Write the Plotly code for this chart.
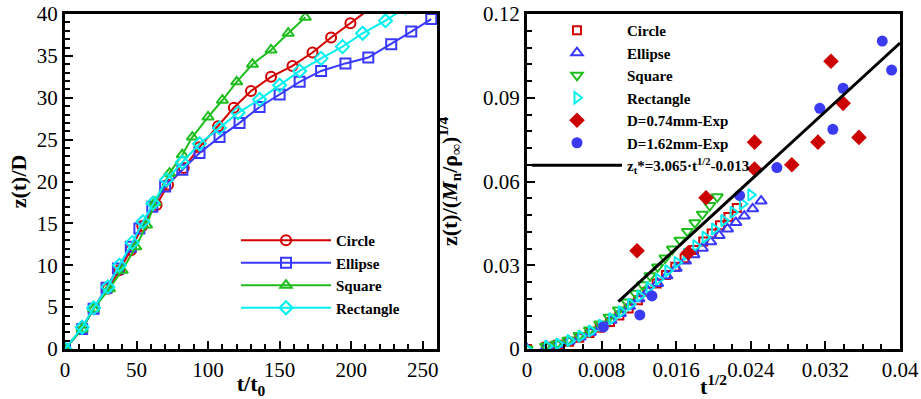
import plotly.graph_objects as go

# ---------------- Left panel data: z(t)/D vs t/t0 ----------------
circle_t = [0, 12, 20, 30, 38, 46, 54, 64, 72, 83, 94, 107, 118, 130, 144, 159, 173, 186, 199.5, 216]
circle_z = [0, 2.5, 4.9, 7.2, 9.4, 11.8, 14.7, 17.2, 19.6, 21.6, 24.1, 26.6, 28.8, 30.8, 32.5, 33.8, 35.4, 37.2, 38.9, 41.0]

ellipse_t = [0, 12, 20, 29, 37, 46, 52, 61, 70, 82, 94, 108, 122, 136, 150, 164, 179, 196, 212, 228, 242, 256]
ellipse_z = [0, 2.4, 4.8, 7.3, 9.6, 12.2, 14.4, 17.0, 19.4, 21.4, 23.4, 25.3, 27.0, 28.9, 30.4, 31.9, 33.2, 34.1, 34.8, 36.4, 37.9, 39.4]

square_t = [0, 12, 20, 31, 40, 49.5, 57, 63, 73, 82, 89, 100, 110, 120, 131, 144, 156, 168]
square_z = [0, 2.4, 4.8, 7.2, 9.4, 12.2, 14.8, 17.5, 21.0, 23.2, 25.3, 27.7, 29.7, 31.9, 34.0, 35.7, 37.7, 39.6]

rect_t = [0, 12, 20, 30, 38, 47, 54.5, 61.5, 71, 82, 94, 108, 121, 136, 150, 164, 179, 194, 208, 224, 238]
rect_z = [0, 2.6, 4.9, 7.4, 10.0, 12.7, 15.2, 17.4, 20.2, 22.3, 24.5, 26.4, 28.2, 29.8, 31.5, 33.2, 34.7, 36.1, 37.7, 39.2, 40.8]

# ---------------- Right panel data: scaled z vs t^(1/2) ----------------
r_circle_x = [0, 0.0021, 0.0033, 0.0045, 0.0056, 0.0067, 0.0078, 0.0089, 0.0099, 0.0109, 0.0119, 0.0129,
              0.0139, 0.0149, 0.0159, 0.0169, 0.0179, 0.0189, 0.0198, 0.0207, 0.0216, 0.0225]
r_circle_y = [0, 0.0008, 0.0015, 0.0026, 0.0040, 0.0057, 0.0076, 0.0097, 0.0120, 0.0145, 0.0175, 0.0205,
              0.0235, 0.0265, 0.0295, 0.0325, 0.0355, 0.0385, 0.0414, 0.0443, 0.0473, 0.0505]

r_ellipse_x = [0, 0.0021, 0.0033, 0.0045, 0.0057, 0.0068, 0.0079, 0.0090, 0.0100, 0.0110, 0.0120, 0.0130,
               0.0140, 0.0150, 0.0160, 0.0170, 0.0179, 0.0188, 0.0197, 0.0206, 0.0215, 0.0224, 0.0233,
               0.0242, 0.0251]
r_ellipse_y = [0, 0.0009, 0.0016, 0.0028, 0.0043, 0.0060, 0.0080, 0.0103, 0.0127, 0.0153, 0.0180, 0.0207,
               0.0235, 0.0262, 0.0289, 0.0315, 0.0338, 0.0361, 0.0384, 0.0407, 0.0430, 0.0453, 0.0476,
               0.0502, 0.0530]

r_square_x = [0, 0.0020, 0.0032, 0.0044, 0.0056, 0.0067, 0.0078, 0.0088, 0.0098, 0.0107, 0.0116, 0.0124,
              0.0132, 0.0140, 0.0148, 0.0156, 0.0164, 0.0172, 0.0180, 0.0188, 0.0196, 0.0204]
r_square_y = [0, 0.0010, 0.0018, 0.0031, 0.0048, 0.0068, 0.0090, 0.0114, 0.0140, 0.0168, 0.0200, 0.0230,
              0.0262, 0.0294, 0.0326, 0.0358, 0.0390, 0.0421, 0.0452, 0.0483, 0.0514, 0.0545]

r_rect_x = [0, 0.0022, 0.0034, 0.0046, 0.0058, 0.0069, 0.0080, 0.0091, 0.0101, 0.0111, 0.0121, 0.0131,
            0.0141, 0.0151, 0.0161, 0.0171, 0.0181, 0.0191, 0.0201, 0.0211, 0.0221, 0.0231, 0.0240]
r_rect_y = [0, 0.0010, 0.0018, 0.0030, 0.0046, 0.0064, 0.0085, 0.0108, 0.0133, 0.0160, 0.0190, 0.0220,
            0.0250, 0.0280, 0.0310, 0.0340, 0.0370, 0.0400, 0.0430, 0.0460, 0.0490, 0.0520, 0.0552]

exp074_x = [0.0118, 0.0173, 0.0192, 0.0244, 0.0244, 0.0284, 0.0312, 0.0326, 0.0339, 0.0356]
exp074_y = [0.0352, 0.0345, 0.0542, 0.0645, 0.0741, 0.0660, 0.0741, 0.1031, 0.0880, 0.0758]

exp162_x = [0.0082, 0.0121, 0.0134, 0.0228, 0.0268, 0.0314, 0.0328, 0.0339, 0.0381, 0.0391]
exp162_y = [0.0079, 0.0122, 0.0190, 0.0550, 0.0650, 0.0862, 0.0787, 0.0934, 0.1103, 0.0999]

fit_x = [0.0098, 0.0400]
fit_y = [0.0170, 0.1096]

left_xticks = [0, 50, 100, 150, 200, 250]
left_yticks = [0, 5, 10, 15, 20, 25, 30, 35, 40]
right_xticks = [0, 0.008, 0.016, 0.024, 0.032, 0.04]
right_xtext = ["0", "0.008", "0.016", "0.024", "0.032", "0.04"]
right_yticks = [0, 0.03, 0.06, 0.09, 0.12]
right_ytext = ["0", "0.03", "0.06", "0.09", "0.12"]

RED = "#d40000"
BLUE = "#3838ff"
GREEN = "#1ebe1e"
CYAN = "#00f0f0"
FONT = "Liberation Serif"

fig = go.Figure()

# Left panel traces
left_series = [
    ("Circle", circle_t, circle_z, RED, "circle-open"),
    ("Ellipse", ellipse_t, ellipse_z, BLUE, "square-open"),
    ("Square", square_t, square_z, GREEN, "triangle-up-open"),
    ("Rectangle", rect_t, rect_z, CYAN, "diamond-open"),
]
for name, xs, ys, col, sym in left_series:
    fig.add_trace(go.Scatter(
        x=xs, y=ys, name="<b>" + name + "</b>", mode="lines+markers",
        line=dict(color=col, width=2),
        marker=dict(symbol=sym, size=10, color=col, line=dict(width=2, color=col)),
        xaxis="x", yaxis="y", legend="legend",
    ))

# Right panel traces
right_series = [
    ("Circle", r_circle_x, r_circle_y, RED, "square-open", 8),
    ("Ellipse", r_ellipse_x, r_ellipse_y, BLUE, "triangle-up-open", 10),
    ("Square", r_square_x, r_square_y, GREEN, "triangle-down-open", 10),
    ("Rectangle", r_rect_x, r_rect_y, CYAN, "triangle-right-open", 10),
]
for name, xs, ys, col, sym, sz in right_series:
    fig.add_trace(go.Scatter(
        x=xs, y=ys, name="<b>" + name + "</b>", mode="markers",
        marker=dict(symbol=sym, size=sz, color=col, line=dict(width=2, color=col)),
        xaxis="x2", yaxis="y2", legend="legend2",
    ))

fig.add_trace(go.Scatter(
    x=exp074_x, y=exp074_y, name="<b>D=0.74mm-Exp</b>", mode="markers",
    marker=dict(symbol="diamond", size=12, color="#cc0000"),
    xaxis="x2", yaxis="y2", legend="legend2",
))
fig.add_trace(go.Scatter(
    x=exp162_x, y=exp162_y, name="<b>D=1.62mm-Exp</b>", mode="markers",
    marker=dict(symbol="circle", size=11, color="#3a3af0"),
    xaxis="x2", yaxis="y2", legend="legend2",
))
fig.add_trace(go.Scatter(
    x=fit_x, y=fit_y, name="<b>z<sub>t</sub>*=3.065·t<sup>1/2</sup>-0.013</b>", mode="lines",
    line=dict(color="black", width=3),
    xaxis="x2", yaxis="y2", legend="legend2",
))

W, H = 921, 399
tickfont = dict(family=FONT, size=21, color="black")
titlefont = dict(family=FONT, size=22, color="black")

common = dict(
    showgrid=False, zeroline=False, showline=True, linecolor="black", linewidth=3,
    mirror=True, ticks="inside", ticklen=8, tickwidth=2, tickcolor="black",
    tickfont=tickfont, automargin=False,
)

ydom = [(H - 349) / H, (H - 14) / H]

fig.update_layout(
    width=W, height=H,
    margin=dict(l=0, r=0, t=0, b=0),
    paper_bgcolor="white", plot_bgcolor="white",
    font=dict(family=FONT, color="black"),
    xaxis=dict(domain=[65 / W, 437 / W], range=[0, 260], tickvals=left_xticks,
               minor=dict(dtick=10, ticks="inside", ticklen=5, tickwidth=1.5, tickcolor="black"),
               title=dict(text="<b>t/t<sub>0</sub></b>", font=titlefont, standoff=0),
               anchor="y", **common),
    yaxis=dict(domain=ydom, range=[0, 40], tickvals=left_yticks,
               minor=dict(dtick=1, ticks="inside", ticklen=5, tickwidth=1.5, tickcolor="black"),
               title=dict(text="<b>z(t)/D</b>", font=titlefont, standoff=5),
               anchor="x", **common),
    xaxis2=dict(domain=[527 / W, 900 / W], range=[0, 0.04], tickvals=right_xticks, ticktext=right_xtext,
                minor=dict(dtick=0.002, ticks="inside", ticklen=5, tickwidth=1.5, tickcolor="black"),
                title=dict(text="<b>t<sup>1/2</sup></b>", font=titlefont, standoff=0),
                anchor="y2", **common),
    yaxis2=dict(domain=ydom, range=[0, 0.12], tickvals=right_yticks, ticktext=right_ytext,
                minor=dict(dtick=0.006, ticks="inside", ticklen=5, tickwidth=1.5, tickcolor="black"),
                title=dict(text="<b>z(t)/(<i>M</i><sub>n</sub>/ρ<sub>∞</sub>)<sup>1/4</sup></b>",
                           font=titlefont, standoff=20),
                anchor="x2", **common),
    legend=dict(x=236 / W, y=1 - 224 / H, xanchor="left", yanchor="top",
                bgcolor="rgba(0,0,0,0)", borderwidth=0, itemwidth=90,
                font=dict(family=FONT, size=15, color="black"), traceorder="normal",
                tracegroupgap=0),
    legend2=dict(x=527 / W, y=1 - 14 / H, xanchor="left", yanchor="top",
                 bgcolor="rgba(0,0,0,0)", borderwidth=0, itemwidth=90,
                 font=dict(family=FONT, size=15, color="black"), traceorder="normal",
                 tracegroupgap=0),
)

fig.write_html("out.html")
